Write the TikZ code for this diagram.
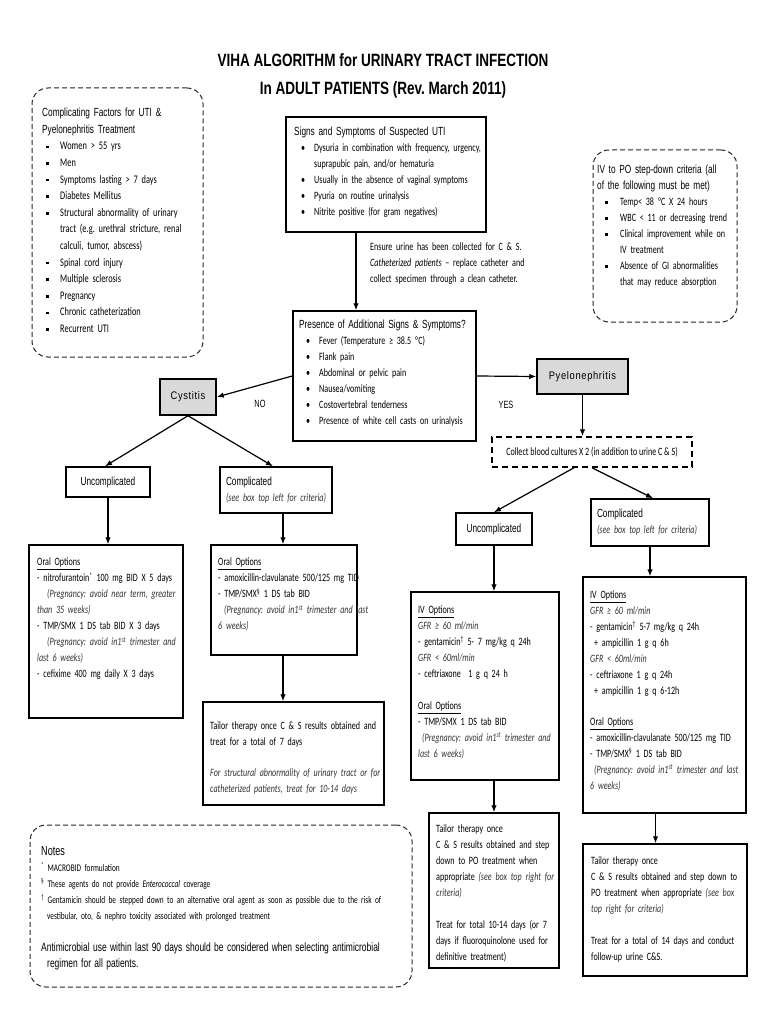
\documentclass[tikz,border=0pt]{standalone}
\usepackage{fontspec}
\setmainfont{Carlito}[FakeStretch=0.72]
\newfontfamily\hd{Liberation Sans}[FakeStretch=0.7]
\newfontfamily\ttl{Liberation Sans}[FakeStretch=0.76]
\newfontfamily\nm{Liberation Sans}[FakeStretch=0.85,LetterSpace=6]
\usetikzlibrary{arrows.meta}
\frenchspacing
\newcommand\bodyfont{\frenchspacing\fontsize{11.2}{16}\selectfont}
\newcommand\hdf{\hd\fontsize{11.8}{16}\selectfont}
\newcommand\sqa{\makebox[18pt][l]{\hspace{4pt}\rule[1.8pt]{2.6pt}{2.6pt}}}
\newcommand\inda{\hspace*{18pt}}
\newcommand\sqb{\makebox[23pt][l]{\hspace{8pt}\rule[1.8pt]{2.6pt}{2.6pt}}}
\newcommand\indb{\hspace*{23pt}}
\newcommand\rdb{\makebox[20pt][l]{\hspace{7pt}\textbullet}}
\newcommand\indr{\hspace*{20pt}}
\newcommand\pit[1]{\textcolor{black!80}{\textit{#1}}}
\begin{document}
\begin{tikzpicture}[x=1pt,y=-1pt,
  box/.style={draw, line width=1.5pt, inner sep=0pt},
  dbox/.style={draw=black!85, line width=1pt, dash pattern=on 5pt off 3pt, rounded corners=16pt, inner sep=0pt},
  txt/.style={inner sep=0pt, anchor=north west, align=left, font=\bodyfont},
  sbox/.style={draw, line width=1.5pt, inner xsep=6pt, inner ysep=3pt, align=left, font=\bodyfont},
  gbox/.style={draw, line width=1.5pt, fill=black!15, inner sep=0pt, font=\nm\fontsize{11}{13}\selectfont},
  arr/.style={line width=1.2pt, -{Latex[length=7pt,width=5.5pt]}},
  lbl/.style={font=\hd\fontsize{10.5}{12}\selectfont, inner sep=0pt}]
\useasboundingbox (0,0) rectangle (768,1024);

% title
\node[align=center, inner sep=0pt, font=\ttl\bfseries\fontsize{17.8}{28}\selectfont] (title) at (383,76)
  {VIHA ALGORITHM for URINARY TRACT INFECTION\\In ADULT PATIENTS (Rev. March 2011)};

% dashed info boxes
\node[dbox, minimum width=171pt, minimum height=269pt] (cf) at (117.5,222.5) {};
\node[txt, text width=180pt, font=\frenchspacing\fontsize{11.6}{16.6}\selectfont] (cft) at (42,108) {{\hdf Complicating Factors for UTI \&\\ Pyelonephritis Treatment}\\
\sqa Women > 55 yrs\\
\sqa Men\\
\sqa Symptoms lasting > 7 days\\
\sqa Diabetes Mellitus\\
\sqa Structural abnormality of urinary\\
\inda tract (e.g. urethral stricture, renal\\
\inda calculi, tumor, abscess)\\
\sqa Spinal cord injury\\
\sqa Multiple sclerosis\\
\sqa Pregnancy\\
\sqa Chronic catheterization\\
\sqa Recurrent UTI};

\node[dbox, minimum width=144pt, minimum height=172pt] (ivpo) at (665,236) {};
\node[txt, text width=160pt] (ivpot) at (597,165) {{\hdf IV to PO step-down criteria (all\\ of the following must be met)}\\
\sqb Temp< 38 ºC X 24 hours\\
\sqb WBC < 11 or decreasing trend\\
\sqb Clinical improvement while on\\
\indb IV treatment\\
\sqb Absence of GI abnormalities\\
\indb that may reduce absorption};

% signs and symptoms
\node[box, minimum width=200pt, minimum height=115pt] (sym) at (386,174.5) {};
\node[txt, text width=210pt] (symt) at (294,127) {{\hdf Signs and Symptoms of Suspected UTI}\\
\rdb Dysuria in combination with frequency, urgency,\\
\indr suprapubic pain, and/or hematuria\\
\rdb Usually in the absence of vaginal symptoms\\
\rdb Pyuria on routine urinalysis\\
\rdb Nitrite positive (for gram negatives)};

\node[txt, text width=190pt] (ensure) at (370,243) {Ensure urine has been collected for C \& S.\\
*\textit{Catheterized patients} – replace catheter and\\
collect specimen through a clean catheter.};

% additional signs
\node[box, minimum width=183pt, minimum height=130pt] (mid) at (384.5,376) {};
\node[txt, text width=200pt] (midt) at (299,320) {{\hdf Presence of Additional Signs \& Symptoms?}\\
\rdb Fever (Temperature ≥ 38.5 ºC)\\
\rdb Flank pain\\
\rdb Abdominal or pelvic pain\\
\rdb Nausea/vomiting\\
\rdb Costovertebral tenderness\\
\rdb Presence of white cell casts on urinalysis};

% branches
\node[gbox, minimum width=56pt, minimum height=36pt] (cys) at (188,397) {Cystitis};
\node[gbox, minimum width=91pt, minimum height=35pt] (pye) at (582.5,376.5) {Pyelonephritis};
\node[lbl] (no) at (260,404) {NO};
\node[lbl] (yes) at (506,405) {YES};

\node[draw, line width=1.5pt, dash pattern=on 6pt off 4pt, minimum width=200pt, minimum height=30pt, inner sep=0pt, font=\bodyfont] (blood) at (592,452) {Collect blood cultures X 2 (in addition to urine C \& S)};

% cystitis side
\node[box, minimum width=84pt, minimum height=30pt, font=\hdf] (uncL) at (108,482) {Uncomplicated};
\node[sbox, text width=100pt, minimum height=46pt] (complL) at (276,490) {{\hdf Complicated}\\ \pit{(see box top left for criteria)}};

\node[box, minimum width=154pt, minimum height=173pt] (oralL) at (106,631.5) {};
\node[txt, text width=170pt] (oralLt) at (37,558) {\underline{Oral Options}\\
- nitrofurantoin\textsuperscript{*} 100 mg BID X 5 days\\
\hspace*{10pt}\pit{(Pregnancy: avoid near term, greater}\\
\pit{than 35 weeks)}\\
- TMP/SMX 1 DS tab BID X 3 days\\
\hspace*{10pt}\pit{(Pregnancy: avoid in1\textsuperscript{st} trimester and}\\
\pit{last 6 weeks)}\\
- cefixime 400 mg daily X 3 days};

\node[box, minimum width=146pt, minimum height=110pt] (oralC) at (284,600) {};
\node[txt, text width=170pt] (oralCt) at (218,558) {\underline{Oral Options}\\
- amoxicillin-clavulanate 500/125 mg TID\\
- TMP/SMX\textsuperscript{§} 1 DS tab BID\\
\hspace*{6pt}\pit{(Pregnancy: avoid in1\textsuperscript{st} trimester and last}\\
\pit{6 weeks)}};

\node[box, minimum width=181pt, minimum height=103pt] (tailorC) at (293.5,753.5) {};
\node[txt, text width=195pt] (tailorCt) at (210,722) {Tailor therapy once C \& S results obtained and\\
treat for a total of 7 days\\[15pt]
\pit{For structural abnormality of urinary tract or for}\\
\pit{catheterized patients, treat for 10-14 days}};

% pyelonephritis side
\node[box, minimum width=76pt, minimum height=32pt, font=\hdf] (uncR) at (494,529) {Uncomplicated};
\node[sbox, text width=106pt, minimum height=47pt] (complR) at (650,522.5) {{\hdf Complicated}\\ \pit{(see box top left for criteria)}};

\node[box, minimum width=148pt, minimum height=188pt] (ivL) at (485,686) {};
\node[txt, text width=160pt] (ivLt) at (418,606) {\underline{IV Options}\\
\pit{GFR ≥ 60 ml/min}\\
- gentamicin\textsuperscript{†} 5- 7 mg/kg q 24h\\
\pit{GFR < 60ml/min}\\
- ceftriaxone\ \ 1 g q 24 h\\[16pt]
\underline{Oral Options}\\
- TMP/SMX 1 DS tab BID\\
\hspace*{4pt}\pit{(Pregnancy: avoid in1\textsuperscript{st} trimester and}\\
\pit{last 6 weeks)}};

\node[box, minimum width=130pt, minimum height=155pt] (tailorL) at (494,890.5) {};
\node[txt, text width=140pt] (tailorLt) at (436,825) {Tailor therapy once\\
C \& S results obtained and step\\
down to PO treatment when\\
appropriate \pit{(see box top right for}\\
\pit{criteria)}\\[16pt]
Treat for total 10-14 days (or 7\\
days if fluoroquinolone used for\\
definitive treatment)};

\node[box, minimum width=163pt, minimum height=236pt] (ivR) at (664.5,695) {};
\node[txt, text width=175pt] (ivRt) at (590,591) {\underline{IV Options}\\
\pit{GFR ≥ 60 ml/min}\\
- gentamicin\textsuperscript{†} 5-7 mg/kg q 24h\\
\hspace*{4pt}+ ampicillin 1 g q 6h\\
\pit{GFR < 60ml/min}\\
- ceftriaxone 1 g q 24h\\
\hspace*{4pt}+ ampicillin 1 g q 6-12h\\[15pt]
\underline{Oral Options}\\
- amoxicillin-clavulanate 500/125 mg TID\\
- TMP/SMX\textsuperscript{§} 1 DS tab BID\\
\hspace*{4pt}\pit{(Pregnancy: avoid in1\textsuperscript{st} trimester and last}\\
\pit{6 weeks)}};

\node[box, minimum width=164pt, minimum height=132pt] (tailorR) at (665,910) {};
\node[txt, text width=175pt] (tailorRt) at (591,857) {Tailor therapy once\\
C \& S results obtained and step down to\\
PO treatment when appropriate \pit{(see box}\\
\pit{top right for criteria)}\\[16pt]
Treat for a total of 14 days and conduct\\
follow-up urine C\&S.};

% notes
\node[dbox, minimum width=382pt, minimum height=162pt] (notes) at (221,906) {};
\node[txt, text width=395pt, font=\frenchspacing\fontsize{10.2}{16}\selectfont] (notest) at (41,846) {{\hd\fontsize{13}{16}\selectfont Notes}\\
\textsuperscript{*} MACROBID formulation\\
\textsuperscript{§} These agents do not provide \textit{Enterococcal} coverage\\
\textsuperscript{†} Gentamicin should be stepped down to an alternative oral agent as soon as possible due to the risk of\\
\hspace*{6pt}vestibular, oto, \& nephro toxicity associated with prolonged treatment\\[16pt]
{\hd\fontsize{12.1}{16}\selectfont Antimicrobial use within last 90 days should be considered when selecting antimicrobial\\
\hspace*{6pt}regimen for all patients.}};

% connectors
\draw[arr] ([xshift=-30pt]sym.south) -- ([xshift=-30pt]sym.south |- mid.north);
\draw[arr] (mid.west) -- (cys.east);
\draw[arr] (mid.east) -- (pye.west);
\draw[arr] (pye.south) -- (pye.south |- blood.north);
\draw[arr] (cys.south) -- ([xshift=-3pt]uncL.north);
\draw[arr] (cys.south) -- ([xshift=-3pt]complL.north);
\draw[arr] (uncL.south) -- (uncL.south |- oralL.north);
\draw[arr] ([xshift=-1pt]oralC.north |- complL.south) -- ([xshift=-1pt]oralC.north);
\draw[arr] ([xshift=-1pt]oralC.south) -- ([xshift=-1pt]oralC.south |- tailorC.north);
\draw[arr] ([xshift=-18pt]blood.south) -- (uncR.north);
\draw[arr] (blood.south) -- ([xshift=3pt]complR.north);
\draw[arr] (uncR.south) -- (uncR.south |- ivL.north);
\draw[arr] (ivL.south -| tailorL.north) -- (tailorL.north);
\draw[arr] (complR.south) -- (complR.south |- ivR.north);
\draw[arr] ([xshift=-9pt]ivR.south) -- ([xshift=-9pt]ivR.south |- tailorR.north);
\end{tikzpicture}
\end{document}
